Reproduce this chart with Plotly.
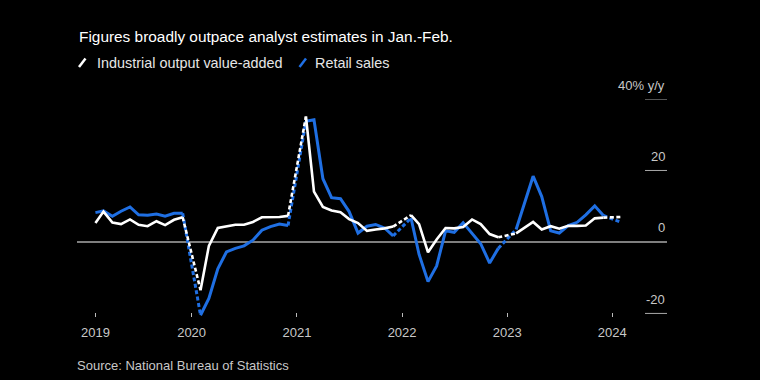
import pandas as pd
import plotly.graph_objects as go

# ---- data (y/y %, Jan.-Feb. combined; plotted at Feb) ----
years = [2019, 2020, 2021, 2022, 2023, 2024]
industrial = [
    # 2019 Feb..Dec
    5.3, 8.5, 5.4, 5.0, 6.3, 4.8, 4.4, 5.8, 4.7, 6.2, 6.9,
    # 2020
    -13.5, -1.1, 3.9, 4.4, 4.8, 4.8, 5.6, 6.9, 6.9, 7.0, 7.3,
    # 2021
    35.1, 14.1, 9.8, 8.8, 8.3, 6.4, 5.3, 3.1, 3.5, 3.8, 4.3,
    # 2022
    7.5, 5.0, -2.9, 0.7, 3.9, 3.8, 4.2, 6.3, 5.0, 2.2, 1.3,
    # 2023
    2.4, 3.9, 5.6, 3.5, 4.4, 3.7, 4.5, 4.5, 4.6, 6.6, 6.8,
    # 2024
    7.0,
]
retail = [
    8.2, 8.7, 7.2, 8.6, 9.8, 7.6, 7.5, 7.8, 7.2, 8.0, 8.0,
    -20.5, -15.8, -7.5, -2.8, -1.8, -1.1, 0.5, 3.3, 4.3, 5.0, 4.6,
    33.8, 34.2, 17.7, 12.4, 12.1, 8.5, 2.5, 4.4, 4.9, 3.9, 1.7,
    6.7, -3.5, -11.1, -6.7, 3.1, 2.7, 5.4, 2.5, -0.5, -5.9, -1.8,
    3.5, 10.6, 18.4, 12.7, 3.1, 2.5, 4.6, 5.5, 7.6, 10.1, 7.4,
    5.5,
]
x_tick_vals = ["2019-02-01", "2020-01-01", "2021-01-01", "2022-01-01", "2023-01-01", "2024-01-01"]
x_tick_text = ["2019", "2020", "2021", "2022", "2023", "2024"]
y_ticks = [-20, 0, 20, 40]
y_tick_text = ["-20", "0", "20", "40% y/y"]

# monthly dates, January omitted (Jan.-Feb. released together)
dates = [d for d in pd.date_range("2019-02-01", "2024-02-01", freq="MS") if d.month != 1]

WHITE = "#ffffff"
BLUE = "#1f6fe3"
GRAY = "#c8c8c8"
FONT = "Liberation Sans"

W, H = 760, 380
ML, MR, MT, MB = 77, 93, 99, 63
PW, PH = W - ML - MR, H - MT - MB


def px2x(px):
    return (px - ML) / PW


def px2y(py):
    return (H - MB - py) / PH


def segments(vals):
    """split into solid yearly runs and dashed Dec->Feb connectors"""
    solid, dashed = [], []
    idx = 0
    n = len(vals)
    while idx < n:
        year = dates[idx].year
        run = [i for i in range(idx, n) if dates[i].year == year]
        solid.append(run)
        if run[-1] + 1 < n:
            dashed.append([run[-1], run[-1] + 1])
        idx = run[-1] + 1
    return solid, dashed


fig = go.Figure()

for vals, color, width in [(retail, BLUE, 3), (industrial, WHITE, 2.6)]:
    solid, dashed = segments(vals)
    for run in dashed:
        fig.add_trace(go.Scatter(
            x=[dates[i] for i in run], y=[vals[i] for i in run], mode="lines",
            line=dict(color=color, width=width, dash="4px,2.5px"),
            showlegend=False, hoverinfo="skip"))
    for run in solid:
        if len(run) < 2:
            continue
        fig.add_trace(go.Scatter(
            x=[dates[i] for i in run], y=[vals[i] for i in run], mode="lines",
            line=dict(color=color, width=width, shape="linear"),
            showlegend=False, hoverinfo="skip"))

shapes = []
# zero line
shapes.append(dict(type="line", xref="paper", yref="y", x0=0, x1=1, y0=0, y1=0,
                   line=dict(color="#a8a8a8", width=1.5), layer="below"))
# short tick lines for right-hand y labels
for v in y_ticks:
    if v == 0:
        continue
    shapes.append(dict(type="line", xref="paper", yref="y", x0=px2x(645), x1=1, y0=v, y1=v,
                       line=dict(color="#a8a8a8", width=1), layer="below"))
# legend slashes
shapes.append(dict(type="line", xref="paper", yref="paper",
                   x0=px2x(79), y0=px2y(67), x1=px2x(85.5), y1=px2y(58.5),
                   line=dict(color=WHITE, width=2.5)))
shapes.append(dict(type="line", xref="paper", yref="paper",
                   x0=px2x(299.5), y0=px2y(67), x1=px2x(306), y1=px2y(58.5),
                   line=dict(color=BLUE, width=2.5)))

annotations = []
annotations.append(dict(text="Figures broadly outpace analyst estimates in Jan.-Feb.",
                        xref="paper", yref="paper", x=px2x(77), y=px2y(37),
                        xanchor="left", yanchor="middle", showarrow=False,
                        font=dict(family=FONT, size=15.4, color=WHITE)))
annotations.append(dict(text="Industrial output value-added",
                        xref="paper", yref="paper", x=px2x(95), y=px2y(63),
                        xanchor="left", yanchor="middle", showarrow=False,
                        font=dict(family=FONT, size=14.4, color="#e6e6e6")))
annotations.append(dict(text="Retail sales",
                        xref="paper", yref="paper", x=px2x(313), y=px2y(63),
                        xanchor="left", yanchor="middle", showarrow=False,
                        font=dict(family=FONT, size=14.4, color="#e6e6e6")))
for v, t in zip(y_ticks, y_tick_text):
    annotations.append(dict(text=t, xref="paper", yref="y", x=1, y=v,
                            xanchor="right", yanchor="middle", yshift=14, showarrow=False,
                            font=dict(family=FONT, size=13, color=GRAY)))
annotations.append(dict(text="Source: National Bureau of Statistics",
                        xref="paper", yref="paper", x=px2x(75), y=px2y(356),
                        xanchor="left", yanchor="top",
                        showarrow=False, font=dict(family=FONT, size=13, color=GRAY)))

fig.update_layout(
    width=W, height=H,
    margin=dict(l=ML, r=MR, t=MT, b=MB, pad=0),
    paper_bgcolor="#000000", plot_bgcolor="#000000",
    showlegend=False,
    shapes=shapes, annotations=annotations,
    xaxis=dict(type="date", range=["2018-11-29", "2024-07-09"],
               tickvals=x_tick_vals, ticktext=x_tick_text,
               ticks="inside", ticklen=4, tickwidth=1, tickcolor="#bbbbbb",
               showgrid=False, zeroline=False, showline=False,
               ticklabelstandoff=6,
               tickfont=dict(family=FONT, size=13, color=GRAY)),
    yaxis=dict(range=[-21, 40], showticklabels=False, showgrid=False,
               zeroline=False, showline=False, ticks=""),
)

fig.write_html("out.html",
               config={"displayModeBar": False, "staticPlot": True},
               post_script="document.body.style.margin='0';document.body.style.background='#000';")
